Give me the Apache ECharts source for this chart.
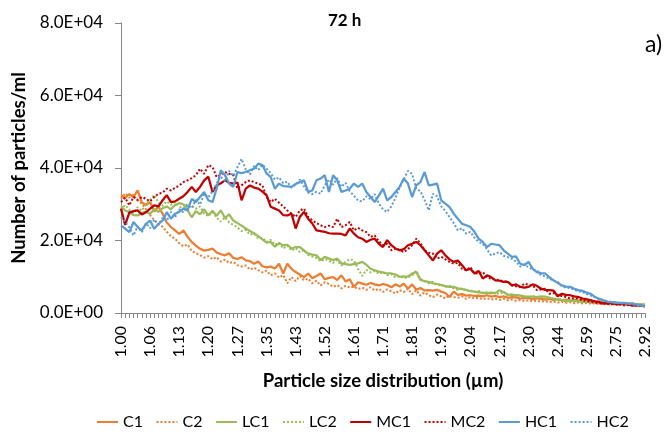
<!DOCTYPE html>
<html>
<head>
<meta charset="utf-8">
<script src="https://cdn.jsdelivr.net/npm/echarts@6/dist/echarts.min.js"></script>
<style>
  html, body { margin: 0; padding: 0; background: #fff; }
  #chart { width: 672px; height: 434px; }
</style>
</head>
<body>
<div id="chart"></div>
<script>
// Particle size bins (µm), log-spaced
const sizes = [
  "1.00","1.01","1.02","1.03","1.03","1.04","1.05","1.06","1.07","1.08",
  "1.09","1.10","1.11","1.12","1.13","1.14","1.15","1.16","1.17","1.18",
  "1.19","1.20","1.21","1.22","1.23","1.24","1.25","1.26","1.27","1.28",
  "1.29","1.30","1.31","1.32","1.34","1.35","1.36","1.37","1.38","1.39",
  "1.41","1.42","1.43","1.44","1.45","1.47","1.48","1.49","1.50","1.52",
  "1.53","1.54","1.56","1.57","1.58","1.60","1.61","1.62","1.64","1.65",
  "1.67","1.68","1.69","1.71","1.72","1.74","1.75","1.77","1.78","1.80",
  "1.81","1.83","1.84","1.86","1.88","1.89","1.91","1.93","1.94","1.96",
  "1.97","1.99","2.01","2.03","2.04","2.06","2.08","2.10","2.11","2.13",
  "2.15","2.17","2.19","2.21","2.22","2.24","2.26","2.28","2.30","2.32",
  "2.34","2.36","2.38","2.40","2.42","2.44","2.46","2.48","2.51","2.53",
  "2.55","2.57","2.59","2.61","2.64","2.66","2.68","2.70","2.73","2.75",
  "2.77","2.80","2.82","2.85","2.87","2.89","2.92"
];

// Number of particles per ml for each sample
const C1 = [
  32500,31800,32800,32000,33800,30500,29800,30600,28000,29300,
  27400,25000,23700,22800,21800,22800,21000,19600,18600,17700,
  17200,17400,17800,16700,16200,15900,16500,15200,14900,15400,
  14500,14300,13600,14200,12900,12600,12800,12300,13600,10900,
  13600,12200,11300,10600,9900,10900,9600,10200,10900,9300,
  9700,9900,9100,10400,8700,9300,7200,8500,8100,7800,
  8300,7900,7600,8000,7700,7100,7900,7300,8100,6700,
  7900,6400,6900,6200,6300,6200,6400,5900,5500,4400,
  5900,5000,5200,4800,4900,4700,4800,4600,4900,4500,
  4700,4400,4600,4200,4400,4300,4000,4200,4100,3800,
  4000,3900,3700,3900,3600,3800,3500,3700,3400,3600,
  3300,3500,3200,3400,3100,3200,2900,3100,2800,2900,
  2700,2800,2500,2600,2400,2300,2100
];
const C2 = [
  31500,33000,31800,32600,31000,30200,28600,27000,25600,24600,
  23800,22400,21200,20500,19200,18400,18900,17100,16500,16000,
  15300,15700,14800,15400,14200,14700,13800,14100,13200,12800,
  13100,12000,12500,11800,11200,11700,10400,10900,9800,10500,
  8200,9900,8800,10200,9000,9500,8200,8900,7600,8500,
  8000,7200,7700,6800,7500,7000,7300,6600,7000,6400,
  7100,6200,6700,5800,6500,6000,5400,6300,5800,6700,
  5200,6300,4800,5700,4900,4400,5100,4600,4000,4900,
  4400,4200,4600,3900,4400,4000,4200,3800,4100,3700,
  3900,3600,3900,3500,3700,3400,3600,3300,3500,3200,
  3400,3100,3300,3000,3200,2900,3100,2800,3000,2700,
  2900,2600,2800,2500,2700,2400,2600,2300,2500,2200,
  2400,2100,2300,2000,2200,1900,1900
];
const LC1 = [
  29500,28300,27800,27000,26900,27600,28000,27300,28700,27900,
  28900,29400,28600,29800,30300,30000,28400,26400,28100,27200,
  28600,26900,28200,26800,28300,26200,27200,25500,24800,24100,
  23300,22600,22000,21200,20300,19400,19600,18300,19200,18700,
  18800,17800,18200,18200,17300,16400,16100,15900,14600,15500,
  15000,14600,15000,13700,13500,13300,13500,13700,14100,13300,
  12200,11800,11400,11200,10900,10900,10600,10000,10100,10000,
  10900,11300,9100,8800,8600,8200,8000,7700,7400,7200,
  7200,6800,6600,6400,6000,5900,5700,5600,5500,5600,
  5500,6300,5700,5100,5000,4900,4800,4600,4500,4500,
  4400,4600,4500,4200,4000,3700,3500,3200,3400,3300,
  3200,3100,3100,3200,3100,3000,2900,2800,2800,2700,
  2700,2600,2500,2500,2400,2400,2400
];
const LC2 = [
  28500,29800,28400,27600,29200,28200,30100,31200,32600,30400,
  29600,30800,29800,30600,29400,28800,30200,29600,28800,29400,
  27400,26800,27900,26300,25200,26400,25000,24300,23600,22600,
  22900,21600,21900,20600,20800,19600,20200,18800,19400,17800,
  18600,17200,17900,16800,17300,16000,15600,15200,14300,14900,
  14400,13800,14600,13100,14200,14800,14500,12200,10200,11900,
  11200,11600,10800,11300,10400,10700,9800,10200,9600,9900,
  10300,11700,9400,8800,8200,8600,7600,7900,7200,7500,
  6800,6400,6900,6100,6300,5800,6100,5400,5700,5300,
  5600,5200,5900,4800,5200,4600,5000,4500,4300,4700,
  4200,4400,3900,4300,3800,3600,3900,3400,3700,3200,
  3500,3000,3300,2900,3100,2800,3000,2600,2900,2500,
  2700,2400,2600,2300,2500,2200,2200
];
const MC1 = [
  28800,24300,27700,28100,28300,27200,27800,28800,29700,29400,
  31100,32500,30600,30800,31500,32200,33400,34800,33400,34800,
  36600,37600,33400,35200,35800,36600,35900,35700,36000,31100,
  34300,35200,34600,34300,33500,32500,29300,28800,28300,27000,
  26900,27400,23300,26500,27900,26000,24700,22800,22600,22400,
  22000,21900,21900,21800,21400,23300,21900,20900,20500,19600,
  20200,20500,19100,18200,20100,18700,17800,17300,17600,18700,
  19100,19600,18700,17300,15900,14500,16400,17300,15900,14800,
  14100,14500,13200,11800,12200,10900,11600,9500,10400,9900,
  9000,8900,8600,8600,7600,7900,7200,7000,7200,7900,
  7500,6700,6400,6300,6200,4600,5300,5000,4900,4600,
  4400,4000,3800,3500,3200,3000,2600,2700,2800,2400,
  2500,2600,2300,2100,2100,2000,1800
];
const MC2 = [
  30600,31800,29700,32000,31200,32000,31500,30800,32000,32900,
  33200,34300,33800,34500,35200,36100,36600,37200,38000,39800,
  38400,40800,40300,37500,38200,38900,38400,38000,34300,35200,
  36100,36600,36100,35700,35200,32000,30600,31500,30400,29400,
  28300,27400,26500,28300,28800,26500,25600,24800,24200,23700,
  24100,23700,26000,23700,24200,25100,22800,23500,22800,22300,
  21000,21400,19800,18700,19100,17300,17800,17400,16800,17600,
  18700,20500,19300,17300,16600,16400,15000,15500,14800,14100,
  13600,13800,12200,11800,12700,10900,11000,11300,9900,9500,
  9300,9000,8800,8600,7600,7400,7200,8100,7800,7600,
  6300,6500,6700,5300,5500,4900,4700,4400,4000,4100,
  3900,3500,3300,3000,2800,2600,2800,2500,2400,2600,
  2300,2100,2200,2100,2000,2100,1800
];
const HC1 = [
  24200,23300,22300,25100,23700,22800,24600,25500,23200,24600,
  25500,27800,26000,27400,27900,28800,28300,31500,30600,32000,
  33400,31100,30600,34300,39400,38000,35700,34800,38900,38600,
  38900,39400,39800,41200,40800,38500,37500,34300,35700,35000,
  34900,34800,35600,36100,36600,33400,33800,36600,37100,38000,
  33400,38000,36600,33400,33800,34300,35700,34800,35700,33400,
  32000,30600,32400,34300,31100,32000,33400,34800,37100,35700,
  32000,35200,36100,38900,35200,35400,35700,31100,30200,29200,
  27400,26000,24600,24200,23700,22400,20500,19600,18200,19100,
  18900,18700,17300,16400,15500,15600,13600,13200,14100,12200,
  11300,11000,10900,9900,9000,8300,7600,7300,7200,6700,
  6300,6100,5600,5300,4400,3900,3500,3100,3000,2800,
  2800,2700,2600,2600,2300,2100,1800
];
const HC2 = [
  26500,25200,23600,21400,23900,22200,24800,23400,25800,24300,
  26200,25300,27900,26400,28600,27800,29800,28900,31200,29900,
  32800,31900,33600,35800,37600,36400,39200,37800,40200,42500,
  39600,38200,40600,39400,40900,39800,38600,36800,37400,35800,
  36200,34600,35400,36800,34900,33200,32800,33400,32900,35200,
  36800,35400,37200,34800,35900,33600,32400,31000,30800,32200,
  31400,32800,30200,28600,27900,29400,31800,34600,36900,39200,
  38400,34200,33600,31200,28300,32900,32200,29400,28200,26400,
  24800,22800,23400,21900,22400,20800,19600,19100,17600,15900,
  16400,16800,15800,15400,15000,14200,12800,13400,12600,12000,
  11800,10400,10100,9400,9000,8600,7400,7000,6900,6400,
  6000,5800,5200,4800,4300,3800,3600,3200,3100,2800,
  2600,2700,2500,2400,2200,2200,1900
];

const seriesNames = ["C1", "C2", "LC1", "LC2", "MC1", "MC2", "HC1", "HC2"];
const seriesData  = [C1, C2, LC1, LC2, MC1, MC2, HC1, HC2];
const yTicks = [0, 20000, 40000, 60000, 80000];

const palette = {
  C1: "#ED7D31", C2: "#ED7D31",
  LC1: "#9BBB59", LC2: "#9BBB59",
  MC1: "#C00000", MC2: "#C00000",
  HC1: "#5B9BD5", HC2: "#5B9BD5"
};

const FONT = "Lato, 'Open Sans', sans-serif";

function sci(v) {
  if (v === 0) return "0.0E+00";
  const e = Math.floor(Math.log10(Math.abs(v)));
  const m = v / Math.pow(10, e);
  return m.toFixed(1) + "E" + (e < 0 ? "-" : "+") + String(Math.abs(e)).padStart(2, "0");
}

const chart = echarts.init(document.getElementById("chart"), null, { renderer: "canvas" });

const series = seriesNames.map((name, k) => {
  const dotted = name.endsWith("2");
  return {
    name: name,
    type: "line",
    data: seriesData[k],
    symbol: "none",
    smooth: false,
    animation: false,
    lineStyle: {
      color: palette[name],
      width: dotted ? 2 : 2.25,
      type: dotted ? [2, 2] : "solid"
    },
    itemStyle: { color: palette[name] }
  };
});

chart.setOption({
  animation: false,
  textStyle: { fontFamily: FONT },
  grid: { left: 121, right: 27, top: 23, bottom: 121 },
  graphic: [
    { type: "text", left: 328, top: 12,
      style: { text: "72 h", font: "bold 17px " + FONT, fill: "#000" } },
    { type: "text", left: 645, top: 33,
      style: { text: "a)", font: "23px " + FONT, fill: "#000" } }
  ],
  legend: {
    top: 414,
    left: 96,
    width: 576,
    padding: 0,
    itemWidth: 21,
    itemHeight: 10,
    itemGap: 12.5,
    itemStyle: { opacity: 0 },
    textStyle: { fontSize: 16, color: "#000", fontFamily: FONT },
    data: seriesNames
  },
  xAxis: {
    type: "category",
    data: sizes,
    boundaryGap: false,
    name: "Particle size distribution (µm)",
    nameLocation: "middle",
    nameGap: 59,
    nameTextStyle: { fontSize: 18.5, fontWeight: "bold", color: "#000", fontFamily: FONT },
    axisLine: { lineStyle: { color: "#868686", width: 1 } },
    axisTick: { show: true, interval: 0, length: 5, lineStyle: { color: "#868686" } },
    axisLabel: { interval: 6, rotate: 90, fontSize: 16, color: "#000", margin: 13, fontFamily: FONT },
    splitLine: { show: false }
  },
  yAxis: {
    type: "value",
    min: yTicks[0],
    max: yTicks[yTicks.length - 1],
    interval: yTicks[1] - yTicks[0],
    name: "Number of particles/ml",
    nameLocation: "middle",
    nameGap: 91,
    nameTextStyle: { fontSize: 18.5, fontWeight: "bold", color: "#000", fontFamily: FONT },
    axisLine: { show: true, lineStyle: { color: "#868686", width: 1 } },
    axisTick: { show: true, length: 6, lineStyle: { color: "#868686" } },
    axisLabel: { formatter: sci, fontSize: 17, color: "#000", margin: 18, fontFamily: FONT },
    splitLine: { show: false }
  },
  series: series
});
</script>
</body>
</html>
